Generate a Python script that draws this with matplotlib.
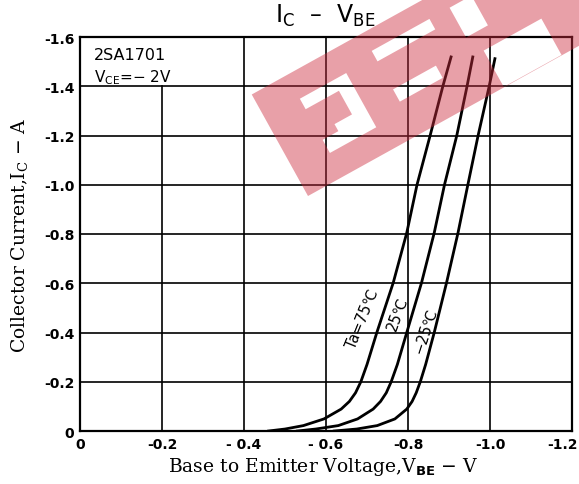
import matplotlib
matplotlib.use("Agg")
import matplotlib.pyplot as plt
import matplotlib.transforms as mtransforms
from matplotlib.path import Path
from matplotlib.patches import PathPatch

# Ic - VBE curves for 2SA1701 (read as magnitudes, plotted negative)
ic_75 = [0.0, 0.008, 0.022, 0.049, 0.089, 0.12, 0.155, 0.2, 0.27, 0.40,
         0.602, 0.805, 1.0, 1.2, 1.4, 1.519]
vbe_75 = [0.46, 0.50, 0.545, 0.595, 0.637, 0.657, 0.672, 0.685, 0.700, 0.724,
          0.764, 0.797, 0.822, 0.854, 0.885, 0.905]

ic_25 = [0.0, 0.008, 0.022, 0.049, 0.089, 0.12, 0.155, 0.2, 0.27, 0.40,
         0.602, 0.805, 1.0, 1.2, 1.4, 1.519]
vbe_25 = [0.53, 0.575, 0.63, 0.677, 0.715, 0.733, 0.747, 0.759, 0.774, 0.797,
          0.833, 0.864, 0.889, 0.919, 0.944, 0.958]

ic_m25 = [0.0, 0.008, 0.022, 0.049, 0.089, 0.12, 0.155, 0.2, 0.27, 0.40,
          0.602, 0.805, 1.0, 1.2, 1.4, 1.512]
vbe_m25 = [0.62, 0.675, 0.725, 0.768, 0.797, 0.810, 0.820, 0.830, 0.843, 0.864,
           0.894, 0.922, 0.946, 0.971, 0.998, 1.012]

x_ticks = [0, -0.2, -0.4, -0.6, -0.8, -1.0, -1.2]
x_labels = ["0", "-0.2", "- 0.4", "- 0.6", "-0.8", "-1.0", "-1.2"]
y_ticks = [0, -0.2, -0.4, -0.6, -0.8, -1.0, -1.2, -1.4, -1.6]
y_labels = ["0", "-0.2", "-0.4", "-0.6", "-0.8", "-1.0", "-1.2", "-1.4", "-1.6"]


def neg(vals):
    return [-v for v in vals]


fig = plt.figure(figsize=(5.79, 4.85), dpi=100)
ax = fig.add_axes([80 / 579, 1 - 432 / 485, 492 / 579, 394 / 485])
ax.set_xlim(0, -1.2)
ax.set_ylim(0, -1.6)

# grid (the -0.2 line stops under the part number box)
for x in x_ticks[1:-1]:
    top = -1.4 if x == -0.2 else -1.6
    ax.plot([x, x], [0, top], color="black", lw=1.2, zorder=1)
for y in y_ticks[1:-1]:
    ax.axhline(y, color="black", lw=1.2, zorder=1)

for s in ax.spines.values():
    s.set_linewidth(1.6)

ax.set_xticks(x_ticks)
ax.set_xticklabels(x_labels, fontweight="bold", fontsize=10)
ax.set_yticks(y_ticks)
ax.set_yticklabels(y_labels, fontweight="bold", fontsize=10)
ax.tick_params(length=0, pad=4)
# last x label sits on the figure edge, nudge it in
last = ax.get_xticklabels()[-1]
last.set_transform(last.get_transform() +
                   mtransforms.ScaledTranslation(-9 / 100, 0, fig.dpi_scale_trans))

for vbe, ic in [(vbe_75, ic_75), (vbe_25, ic_25), (vbe_m25, ic_m25)]:
    ax.plot(neg(vbe), neg(ic), color="black", lw=2.0, zorder=3,
            solid_joinstyle="round")

ax.text(-0.690, -0.46, "Ta=75\u2103", rotation=68, fontsize=10.5,
        ha="center", va="center")
ax.text(-0.775, -0.48, "25\u2103", rotation=70, fontsize=10.5,
        ha="center", va="center")
ax.text(-0.841, -0.41, "\u221225\u2103", rotation=72, fontsize=10.5,
        ha="center", va="center")

ax.text(-0.035, -1.53, "2SA1701", fontsize=11.5, ha="left", va="center")
ax.text(-0.035, -1.44, "V$_\\mathregular{CE}$=\u2212 2V",
        fontsize=11, ha="left", va="center")

ax.set_xlabel(r"Base to Emitter Voltage,V$_\mathbf{BE}$ $-$ V",
              family="DejaVu Serif", fontsize=13.5)
ax.xaxis.set_label_coords(0.494, -0.062)
ax.set_ylabel(r"Collector Current,I$_\mathregular{C}$ $-$ A",
              family="DejaVu Serif", fontsize=13.5)
ax.yaxis.set_label_coords(-0.10, 0.5)

fig.text(325 / 579, 1 - 16 / 485, "I$_\\mathregular{C}$  \u2013  V$_\\mathregular{BE}$",
         fontsize=17, ha="center", va="center")

# red watermark band with letter cut-outs, built in a rotated local frame
ox, oy = 308, 197
ux, uy = 0.875, -0.485
vx, vy = -0.485, -0.875


def to_fig(u, v):
    px = ox + u * ux + v * vx
    py = oy + u * uy + v * vy
    return (px / 579, 1 - py / 485)


def rect(u0, u1, v0, v1, ccw=True):
    pts = [(u0, v0), (u1, v0), (u1, v1), (u0, v1)]
    if not ccw:
        pts = pts[::-1]
    return [to_fig(u, v) for u, v in pts]


band = rect(0, 420, 0, 116)
holes = [
    (40, 93, 77, 89), (78, 93, 42, 77), (40, 93, 27, 42), (58, 78, 42, 50),
    (126, 192, 84, 96), (126, 175, 38, 52),
    (215, 240, 62, 96), (224, 290, 0.5, 42),
]
verts, codes = [], []
for poly in [band] + [rect(*h, ccw=False) for h in holes]:
    verts += poly + [poly[0]]
    codes += [Path.MOVETO] + [Path.LINETO] * 3 + [Path.CLOSEPOLY]
fig.patches.append(PathPatch(Path(verts, codes), transform=fig.transFigure,
                             facecolor=(204 / 255, 44 / 255, 62 / 255),
                             edgecolor="none", alpha=0.45, zorder=10))

fig.savefig("out.png", dpi=100)
